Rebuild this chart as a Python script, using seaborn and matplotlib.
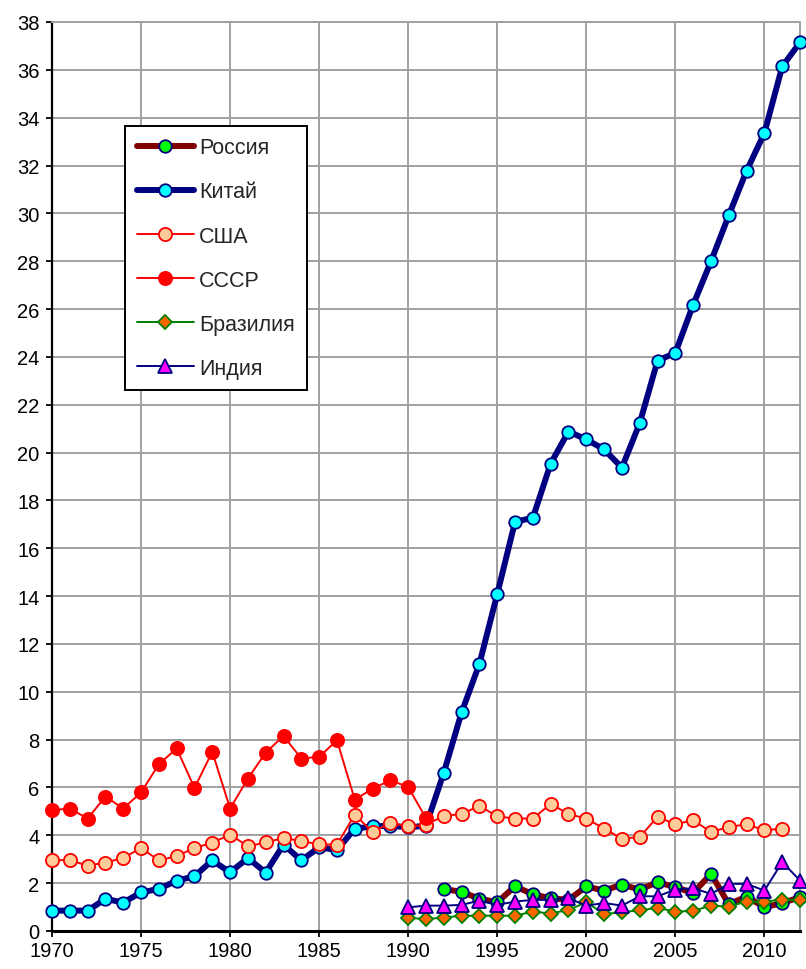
import matplotlib
matplotlib.use("Agg")
import matplotlib.pyplot as plt
import seaborn as sns
import numpy as np

sns.set_theme(style="whitegrid")
plt.rcParams.update({
    "font.family": ["Liberation Sans", "DejaVu Sans"],
    "font.size": 14,
    "xtick.labelsize": 14.5,
    "ytick.labelsize": 14.5,
    "legend.fontsize": 15.5,
})

# Data
years_china = list(range(1970, 2013))
china = [0.85, 0.85, 0.85, 1.34, 1.19, 1.61, 1.76, 2.10, 2.29, 2.95,
         2.45, 3.05, 2.44, 3.61, 2.95, 3.50, 3.38, 4.28, 4.37, 4.40,
         4.33, 4.40, 6.62, 9.14, 11.17, 14.09, 17.11, 17.27, 19.54, 20.88,
         20.55, 20.13, 19.37, 21.23, 23.84, 24.17, 26.18, 27.99, 29.92, 31.78,
         33.36, 36.14, 37.15]

years_usa = list(range(1970, 2012))
usa = [2.96, 2.96, 2.73, 2.86, 3.05, 3.47, 2.95, 3.13, 3.47, 3.69,
       4.03, 3.54, 3.70, 3.89, 3.76, 3.62, 3.61, 4.86, 4.14, 4.52,
       4.37, 4.44, 4.81, 4.89, 5.23, 4.79, 4.70, 4.70, 5.31, 4.89,
       4.70, 4.28, 3.86, 3.93, 4.77, 4.46, 4.63, 4.14, 4.35, 4.46,
       4.21, 4.28]

years_ussr = list(range(1970, 1992))
ussr = [5.05, 5.12, 4.70, 5.62, 5.12, 5.79, 6.97, 7.63, 5.98, 7.49,
        5.12, 6.37, 7.46, 8.15, 7.21, 7.28, 7.97, 5.49, 5.95, 6.30,
        6.02, 4.71]

years_russia = list(range(1992, 2013))
russia = [1.76, 1.63, 1.35, 1.20, 1.87, 1.53, 1.37, 1.30, 1.86, 1.69,
          1.94, 1.73, 2.04, 1.83, 1.59, 2.39, 1.12, 1.44, 0.99, 1.17,
          1.41]

years_90s = list(range(1990, 2013))
brazil = [0.55, 0.50, 0.56, 0.64, 0.64, 0.64, 0.64, 0.81, 0.73, 0.88,
          1.20, 0.71, 0.78, 0.87, 0.96, 0.81, 0.84, 1.06, 1.02, 1.23,
          1.23, 1.31, 1.29]
india = [0.99, 1.06, 1.06, 1.09, 1.27, 1.09, 1.23, 1.30, 1.30, 1.37,
         1.06, 1.17, 1.06, 1.45, 1.45, 1.73, 1.79, 1.55, 1.97, 1.97,
         1.69, 2.88, 2.11]

series = [
    ("Россия", years_russia, russia,
     dict(color="#800000", lw=4.3, marker="o", ms=9, mfc="#00FF00", mec="#000080")),
    ("Китай", years_china, china,
     dict(color="#000080", lw=4.3, marker="o", ms=9, mfc="#00FFFF", mec="#000080")),
    ("США", years_usa, usa,
     dict(color="#FF0000", lw=1.4, marker="o", ms=9.5, mfc="#FFCC99", mec="#FF0000")),
    ("СССР", years_ussr, ussr,
     dict(color="#FF0000", lw=1.4, marker="o", ms=9.5, mfc="#FF0000", mec="#FF0000")),
    ("Бразилия", years_90s, brazil,
     dict(color="#008000", lw=1.4, marker="D", ms=7.5, mfc="#FF6600", mec="#008000")),
    ("Индия", years_90s, india,
     dict(color="#000080", lw=1.4, marker="^", ms=10, mfc="#FF00FF", mec="#000080")),
]

fig = plt.figure(figsize=(8.06, 9.70), dpi=100)
ax = fig.add_axes([0.0645, 0.0392, 0.9281, 0.9371])

for i, (name, xs, ys, st) in enumerate(series):
    sns.lineplot(x=xs, y=ys, ax=ax, label=name, markeredgewidth=1.3,
                 clip_on=False, zorder=3 + i, **st)

ax.set_xlim(1970, 2012)
ax.set_ylim(0, 38)
ax.set_xticks(np.arange(1970, 2011, 5))
ax.set_yticks(np.arange(0, 39, 2))
ax.grid(True, color="#A0A0A0", lw=1.4)
ax.set_axisbelow(True)

for side in ["top", "right"]:
    ax.spines[side].set_color("#A0A0A0")
    ax.spines[side].set_linewidth(1.4)
ax.spines["left"].set_color("black")
ax.spines["left"].set_linewidth(1.6)
ax.spines["bottom"].set_color("black")
ax.spines["bottom"].set_linewidth(2.2)
ax.tick_params(axis="both", direction="out", length=4, width=1.3,
               color="black", colors="black")
ax.tick_params(axis="x", bottom=True, pad=3)
ax.tick_params(axis="y", left=True, pad=5)

leg = ax.legend(loc="upper left", bbox_to_anchor=(0.0976, 0.886),
                borderaxespad=0, frameon=True, fancybox=False, shadow=False,
                handlelength=2.65, labelspacing=1.07, handletextpad=0.25,
                borderpad=0.55, edgecolor="black", facecolor="white",
                framealpha=1)
leg.get_frame().set_linewidth(1.4)
leg.set_zorder(20)

fig.savefig("out.png", dpi=100)
plt.close(fig)
